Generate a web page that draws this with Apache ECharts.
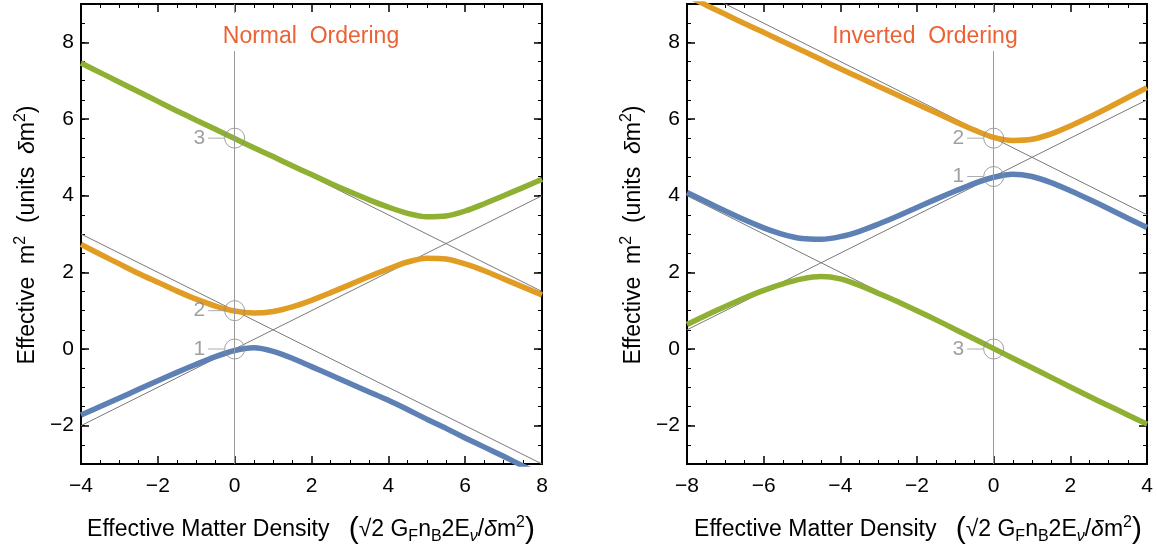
<!DOCTYPE html>
<html>
<head>
<meta charset="utf-8">
<script src="https://cdn.jsdelivr.net/npm/echarts@6/dist/echarts.min.js"></script>
<style>
html,body{margin:0;padding:0;background:#fff;}
#chart{width:1157px;height:554px;}
</style>
</head>
<body>
<div id="chart"></div>
<script>
// ---------- data ----------
// Left panel: Normal Ordering
const noX      = [-4,-3.5,-3,-2.5,-2,-1.5,-1,-0.5,0,0.5,1,1.5,2,2.5,3,3.5,4,4.5,5,5.5,6,6.5,7,7.5,8];
const noBlue   = [-1.72,-1.5,-1.28,-1.05,-0.83,-0.61,-0.4,-0.2,-0.04,0.03,-0.06,-0.24,-0.46,-0.68,-0.9,-1.12,-1.34,-1.58,-1.83,-2.07,-2.32,-2.56,-2.8,-3.05,-3.3];
const noOrange = [2.73,2.47,2.22,1.97,1.74,1.51,1.3,1.12,0.99,0.94,0.98,1.1,1.27,1.47,1.68,1.89,2.09,2.27,2.37,2.35,2.22,2.04,1.83,1.62,1.41];
const noGreen  = [7.46,7.21,6.96,6.71,6.46,6.21,5.97,5.73,5.49,5.25,5.02,4.78,4.55,4.32,4.1,3.89,3.7,3.54,3.45,3.47,3.6,3.79,4.0,4.21,4.43];
const noThinA  = [[-4,-2],[8,4]];
const noThinB  = [[-4,3],[8,-3]];
const noThinC  = [[-4,7.5],[8,1.5]];
const noStateY = [5.5,1,0];
const noStateN = ['3','2','1'];

// Right panel: Inverted Ordering
const ioX      = [-8,-7.5,-7,-6.5,-6,-5.5,-5,-4.5,-4,-3.5,-3,-2.5,-2,-1.5,-1,-0.5,0,0.5,1,1.5,2,2.5,3,3.5,4];
const ioOrange = [9.22,8.97,8.73,8.49,8.26,8.02,7.79,7.55,7.31,7.08,6.85,6.62,6.39,6.16,5.93,5.71,5.52,5.44,5.47,5.61,5.82,6.05,6.3,6.56,6.82];
const ioBlue   = [4.08,3.84,3.6,3.37,3.16,2.99,2.88,2.86,2.93,3.07,3.26,3.47,3.69,3.91,4.12,4.32,4.48,4.56,4.5,4.34,4.13,3.9,3.66,3.41,3.17];
const ioGreen  = [0.64,0.88,1.11,1.33,1.53,1.7,1.83,1.89,1.83,1.66,1.45,1.23,1.0,0.76,0.51,0.26,0.01,-0.24,-0.49,-0.74,-0.99,-1.24,-1.48,-1.72,-1.96];
const ioThinA  = [[-8,0.5],[4,6.5]];
const ioThinB  = [[-8,9.5],[4,3.5]];
const ioThinC  = [[-8,4],[4,-2]];
const ioStateY = [5.5,4.5,0];
const ioStateN = ['2','1','3'];

const leftRange  = [-4, 8];
const rightRange = [-8, 4];
const yRange     = [-3, 9];
const yTicks     = [-2, 0, 2, 4, 6, 8];
const titles     = ['Normal  Ordering', 'Inverted  Ordering'];

// ---------- styling ----------
const FONT = 'Liberation Sans';
const C_BLUE = '#5E81B5', C_ORANGE = '#E19C24', C_GREEN = '#8FB032', C_TITLE = '#EB6235';
const GRIDS = [{left:81, top:4, width:461, height:460}, {left:687, top:4, width:460, height:460}];

function fmt(v){ return v < 0 ? '\u2212' + Math.abs(v) : String(v); }

function richSet(fs){
  return {
    a:{fontFamily:FONT, fontSize:fs, fill:'#000', color:'#000', lineHeight:30},
    i:{fontFamily:FONT, fontSize:fs, fill:'#000', color:'#000', fontStyle:'italic', lineHeight:30},
    s:{fontFamily:FONT, fontSize:16, fill:'#000', color:'#000', verticalAlign:'top', lineHeight:25},
    b:{fontFamily:FONT, fontSize:16, fill:'#000', color:'#000', verticalAlign:'bottom', lineHeight:25},
    bi:{fontFamily:FONT, fontSize:16, fill:'#000', color:'#000', fontStyle:'italic', verticalAlign:'bottom', lineHeight:25},
    p:{fontFamily:FONT, fontSize:30, fill:'#000', color:'#000', lineHeight:30}
  };
}
const xName = '{a|Effective Matter Density   }{p|(}{a|\u221A2 G}{b|F}{a|n}{b|B}{a|2E}{bi|\u03BD}{a|/}{i|\u03B4}{a|m}{s|2}{p|)}';
const yName = '{a|Effective  m}{s|2}{a|  (units  }{i|\u03B4}{a|m}{s|2}{a|)}';

function axisBase(){
  return {
    type:'value', splitLine:{show:false},
    axisLine:{show:true, onZero:false, lineStyle:{color:'#000', width:2}},
    axisTick:{show:true, inside:true, length:8, lineStyle:{color:'#000', width:1.5}},
    axisLabel:{show:false}
  };
}
function xAxesFor(gi, range){
  const main = Object.assign(axisBase(), {gridIndex:gi, position:'bottom', min:range[0], max:range[1], interval:2,
    minorTick:{show:true, splitNumber:4, length:4, lineStyle:{color:'#000', width:1}},
    axisLabel:{show:true, margin:12, fontSize:21, fontFamily:FONT, color:'#000', formatter:fmt}});
  const top = Object.assign(axisBase(), {gridIndex:gi, position:'top', min:range[0], max:range[1], interval:2,
    minorTick:{show:true, splitNumber:4, length:4, lineStyle:{color:'#000', width:1}}});
  return [main, top];
}
function yAxesFor(gi){
  const mk = (pos, major, labels) => {
    const a = Object.assign(axisBase(), {gridIndex:gi, position:pos, min:yRange[0], max:yRange[1], interval:0.5});
    if (major) {
      a.axisTick = {show:true, inside:true, length:8, customValues:yTicks, lineStyle:{color:'#000', width:1.5}};
    } else {
      a.axisTick = {show:true, inside:true, length:4, lineStyle:{color:'#000', width:1}};
    }
    if (labels) {
      a.axisLabel = {show:true, margin:7, fontSize:21, fontFamily:FONT, color:'#000', formatter:fmt, customValues:yTicks};
    }
    return a;
  };
  return [mk('left', true, true), mk('left', false, false), mk('right', true, false), mk('right', false, false)];
}

function zip(xs, ys){ return xs.map((x,i)=>[x, ys[i]]); }

function panelSeries(xi, yi, xs, curves, thins, stY, stN){
  const out = [];
  thins.forEach((t, k)=>{
    const s = {type:'line', xAxisIndex:xi, yAxisIndex:yi, data:t, showSymbol:false, silent:true,
      lineStyle:{color:'#7a7a7a', width:1}, z:2};
    if (k === 0) {
      s.markLine = {symbol:'none', silent:true, label:{show:false},
        lineStyle:{color:'#9a9a9a', width:1, type:'solid'}, data:[{xAxis:0}]};
    }
    out.push(s);
  });
  curves.forEach(c=>{
    out.push({type:'line', xAxisIndex:xi, yAxisIndex:yi, data:zip(xs, c.y), showSymbol:false,
      smooth:0.3, silent:true, lineStyle:{color:c.color, width:5.5}, z:3});
  });
  out.push({type:'scatter', xAxisIndex:xi, yAxisIndex:yi, z:4, silent:true,
    data: stY.map((y,i)=>({value:[0,y], name:stN[i]})),
    symbol:'circle', symbolSize:20,
    itemStyle:{color:'rgba(0,0,0,0)', borderColor:'#8a8a8a', borderWidth:1},
    label:{show:true, position:'left', distance:0,
      formatter: p => '{t|' + p.name + '}{l|}',
      rich:{
        t:{fontFamily:FONT, fontSize:21, color:'#888', padding:[0,3,0,0]},
        l:{width:16, height:1, backgroundColor:'#999'}
      }}
  });
  return out;
}

const xAxes = [...xAxesFor(0, leftRange), ...xAxesFor(1, rightRange)];
const yAxes = [...yAxesFor(0), ...yAxesFor(1)];
const series = [
  ...panelSeries(0, 0, noX,
    [{y:noBlue, color:C_BLUE},{y:noOrange, color:C_ORANGE},{y:noGreen, color:C_GREEN}],
    [noThinA, noThinB, noThinC], noStateY, noStateN),
  ...panelSeries(2, 4, ioX,
    [{y:ioGreen, color:C_GREEN},{y:ioBlue, color:C_BLUE},{y:ioOrange, color:C_ORANGE}],
    [ioThinA, ioThinB, ioThinC], ioStateY, ioStateN)
];

const titleCenters = [301, 915];
const nameX = [311, 918];
const nameYPos = [28, 634];

const graphics = [];
for (let i = 0; i < 2; i++) {
  graphics.push({type:'text', x:nameX[i], y:530, z:10,
    style:{text:xName, rich:richSet(23), align:'center', verticalAlign:'middle', fill:'#000'}});
  graphics.push({type:'text', x:nameYPos[i], y:235, rotation:Math.PI/2, z:10,
    style:{text:yName, rich:richSet(23), align:'center', verticalAlign:'middle', fill:'#000'}});
}

const option = {
  animation:false,
  backgroundColor:'#fff',
  title: titles.map((t,i)=>({
    text:t, left:titleCenters[i], textAlign:'center', top:13,
    padding:[12,10,3,10], backgroundColor:'#fff',
    textStyle:{color:C_TITLE, fontSize:23, fontWeight:'normal', fontFamily:FONT}
  })),
  grid: GRIDS,
  xAxis: xAxes,
  yAxis: yAxes,
  graphic: graphics,
  series: series
};

const chart = echarts.init(document.getElementById('chart'), null, {renderer:'canvas'});
chart.setOption(option);
</script>
</body>
</html>
